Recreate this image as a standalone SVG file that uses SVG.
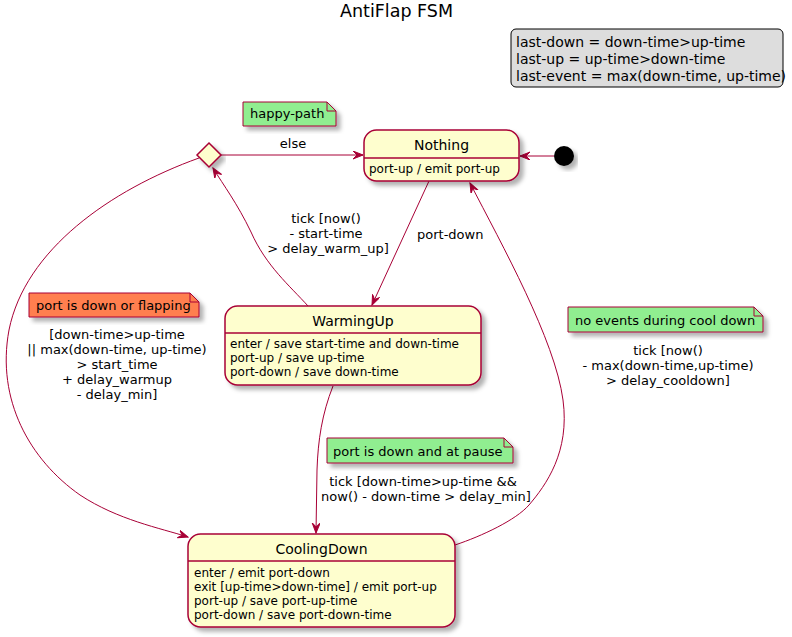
<svg xmlns="http://www.w3.org/2000/svg" width="792" height="637" viewBox="0 0 792 637">
<defs>
<filter id="sh" x="-10%" y="-10%" width="130%" height="140%">
<feDropShadow dx="4" dy="4" stdDeviation="2" flood-color="#000" flood-opacity="0.3"/>
</filter>
<marker id="arr" markerWidth="11" markerHeight="10" refX="10" refY="4" orient="auto" markerUnits="userSpaceOnUse">
<path d="M0,0 L10,4 L0,8 L4,4 Z" fill="#A80036" stroke="#A80036" stroke-width="1"/>
</marker>
<style>
text{font-family:"DejaVu Sans","Liberation Sans",sans-serif;fill:#000}
.st{fill:#FEFECE;stroke:#A80036;stroke-width:1.5;filter:url(#sh)}
.dv{stroke:#A80036;stroke-width:1.5}
.tt{font-size:14px;text-anchor:middle}
.bd{font-size:12px}
.lb{font-size:13px;text-anchor:middle}
.nt{stroke:#A80036;stroke-width:1;filter:url(#sh)}
.nf{fill:none;stroke:#A80036;stroke-width:1}
.ntx{font-size:13px}
.cn{fill:none;stroke:#A80036;stroke-width:1;marker-end:url(#arr)}
</style>
</defs>
<rect width="792" height="637" fill="#fff"/>
<text x="396.5" y="17" style="font-size:17.5px;text-anchor:middle">AntiFlap FSM</text>

<g id="legend">
<rect x="511" y="29" width="272" height="58" rx="5" fill="#DDDDDD" stroke="#000" stroke-width="1"/>
<text x="516" y="47" style="font-size:14px">last-down = down-time&gt;up-time</text>
<text x="516" y="64" style="font-size:14px">last-up = up-time&gt;down-time</text>
<text x="516" y="81" style="font-size:14px">last-event = max(down-time, up-time)</text>
</g>

<g id="connectors">
<line class="cn" x1="554" y1="156" x2="520" y2="156"/>
<line class="cn" x1="221" y1="155" x2="363" y2="155"/>
<line class="cn" x1="429" y1="181" x2="372" y2="305"/>
<path class="cn" d="M308,306 C290,286 266,266 251,232 C237,203 224,186 213,168"/>
<path class="cn" d="M199,158 C110,190 25,250 9,330 C-4,400 30,460 80,495 C118,520 160,528 188,537"/>
<path class="cn" d="M333,386 C322,414 318,440 317,470 L316,533"/>
<path class="cn" d="M455,545 C482,536 516,520 529,505 C546,485 570,452 563,400 C555,340 502,245 470,183"/>
<text class="lb" x="293" y="148">else</text>
<text class="lb" x="326" y="223">tick [now()</text>
<text class="lb" x="326" y="238">- start-time</text>
<text class="lb" x="328" y="253">&gt; delay_warm_up]</text>
<text x="417" y="239" style="font-size:13px">port-down</text>
<text class="lb" x="117" y="339">[down-time&gt;up-time</text>
<text class="lb" x="117" y="354">|| max(down-time, up-time)</text>
<text class="lb" x="117" y="369">&gt; start_time</text>
<text class="lb" x="117" y="384">+ delay_warmup</text>
<text class="lb" x="117" y="399">- delay_min]</text>
<text class="lb" x="423" y="486">tick [down-time&gt;up-time &amp;&amp;</text>
<text class="lb" x="426" y="501">now() - down-time &gt; delay_min]</text>
<text class="lb" x="668" y="355">tick [now()</text>
<text class="lb" x="668" y="370">- max(down-time,up-time)</text>
<text class="lb" x="668" y="385">&gt; delay_cooldown]</text>
</g>

<g id="initial">
<circle cx="564" cy="156" r="10" fill="#000" filter="url(#sh)"/>
</g>

<g id="choice">
<polygon points="209,143 221,155 209,167 197,155" fill="#FEFECE" stroke="#A80036" stroke-width="1.5" filter="url(#sh)"/>
</g>

<g id="Nothing">
<rect class="st" x="364" y="130" width="155" height="51" rx="12.5"/>
<line class="dv" x1="364" y1="158" x2="519" y2="158"/>
<text class="tt" x="441.5" y="150">Nothing</text>
<text class="bd" x="369" y="173">port-up / emit port-up</text>
</g>

<g id="WarmingUp">
<rect class="st" x="225" y="306" width="256" height="79" rx="12.5"/>
<line class="dv" x1="225" y1="333" x2="481" y2="333"/>
<text class="tt" x="353" y="326">WarmingUp</text>
<text class="bd" x="230" y="348">enter / save start-time and down-time</text>
<text class="bd" x="230" y="362">port-up / save up-time</text>
<text class="bd" x="230" y="376">port-down / save down-time</text>
</g>

<g id="CoolingDown">
<rect class="st" x="188" y="534" width="267" height="93" rx="12.5"/>
<line class="dv" x1="188" y1="561" x2="455" y2="561"/>
<text class="tt" x="321.5" y="554">CoolingDown</text>
<text class="bd" x="194" y="577">enter / emit port-down</text>
<text class="bd" x="194" y="591">exit [up-time&gt;down-time] / emit port-up</text>
<text class="bd" x="194" y="605">port-up / save port-up-time</text>
<text class="bd" x="194" y="619">port-down / save port-down-time</text>
</g>

<g id="note-happy">
<path class="nt" d="M243,102 L327,102 L336,111 L336,126 L243,126 Z" fill="#90EE90"/>
<path class="nf" d="M327,102 L327,111 L336,111"/>
<text class="ntx" x="250" y="118">happy-path</text>
</g>

<g id="note-flapping">
<path class="nt" d="M29,293 L190,293 L199,302 L199,317 L29,317 Z" fill="#FF7F50"/>
<path class="nf" d="M190,293 L190,302 L199,302"/>
<text class="ntx" x="36" y="310">port is down or flapping</text>
</g>

<g id="note-pause">
<path class="nt" d="M327,438 L504,438 L513,447 L513,463 L327,463 Z" fill="#90EE90"/>
<path class="nf" d="M504,438 L504,447 L513,447"/>
<text class="ntx" x="333" y="456">port is down and at pause</text>
</g>

<g id="note-cool">
<path class="nt" d="M568,307 L754,307 L763,316 L763,332 L568,332 Z" fill="#90EE90"/>
<path class="nf" d="M754,307 L754,316 L763,316"/>
<text class="ntx" x="575" y="325">no events during cool down</text>
</g>
</svg>
